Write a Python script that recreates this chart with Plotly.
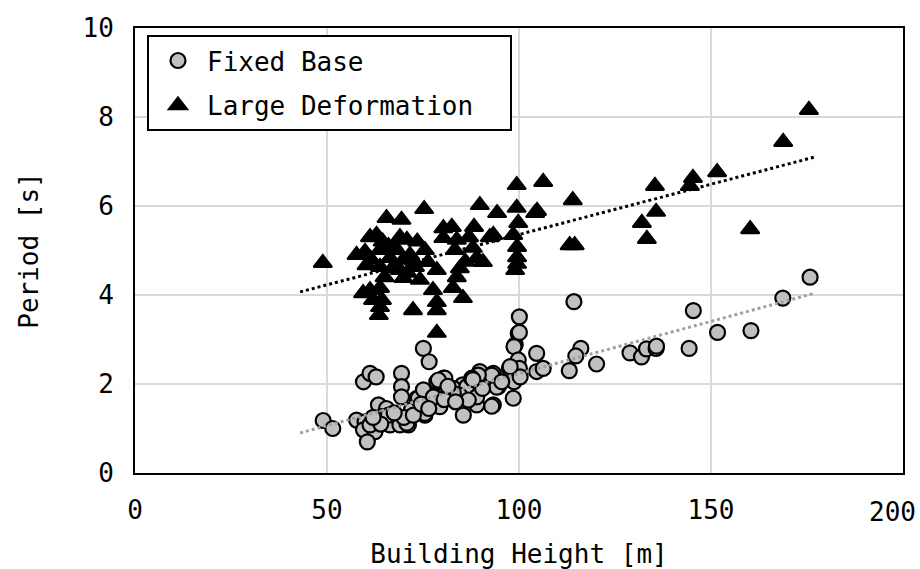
import plotly.graph_objects as go

# Fixed Base (circles)
fb_height = [49, 51.5, 59.5, 61.2, 62.8, 69.4, 69.4, 69.4, 57.7, 59.9, 59.5, 62.5, 60.5, 63.4, 65.5,
             64.2, 68.1, 66.4, 69, 71.2, 72, 73.4, 61.2,
             75.1, 76.6, 80.3, 78.6, 85.3, 89.8, 93.3, 94.6, 98.5, 98.5, 99.8, 104.6, 104.6, 99, 99.8,
             98.5, 93.3, 89, 85.5, 84.2, 87.2, 79.4, 75.5, 73.8, 70.8, 77.7, 82, 82.9, 86.4,
             175.8, 168.7, 114.3, 145.4, 151.7, 160.4, 144.3, 128.9, 131.9, 133.2, 135.7, 135.8, 116.1,
             114.8, 120.2, 113.1, 106.3, 100.1, 100.1, 98.7, 99.8, 97.5, 100.1, 98.7, 100.3,
             97.7, 94.2, 92.9, 89.4, 87.7, 80.7, 79, 84.5, 89, 92.9, 75.1, 77.7, 82.9, 86.8, 75.5,
             66, 70, 72.5, 74.5, 76.5, 80.5, 83.5, 90.5, 95.5, 88, 81.5, 67.5, 64, 62]
fb_period = [1.18, 1.0, 2.05, 2.24, 2.16, 2.24, 1.94, 1.71, 1.19, 1.15, 0.97, 0.93, 0.70, 1.53, 1.45,
             1.27, 1.19, 1.08, 1.08, 1.08, 1.42, 1.68, 1.08,
             2.8, 2.5, 2.13, 2.05, 1.98, 2.28, 2.24, 1.94, 2.09, 2.39, 2.39, 2.69, 2.28, 2.88, 3.14,
             1.68, 1.53, 1.53, 1.3, 1.75, 1.75, 1.49, 1.3, 1.68, 1.12, 1.75, 1.79, 1.9, 1.94,
             4.4, 3.93, 3.85, 3.65, 3.16, 3.2, 2.8, 2.7, 2.61, 2.79, 2.8, 2.85, 2.8,
             2.63, 2.45, 2.3, 2.35, 3.51, 3.16, 2.84, 2.54, 2.35, 2.35, 2.05, 2.16,
             2.39, 1.93, 2.2, 2.2, 2.13, 2.13, 2.09, 1.75, 1.71, 1.5, 1.87, 1.71, 1.79, 1.64, 1.34,
             1.3, 1.25, 1.3, 1.55, 1.45, 1.65, 1.6, 1.9, 2.05, 2.1, 1.95, 1.35, 1.1, 1.25]

# Large Deformation (triangles)
ld_height = [48.9, 175.5, 168.8, 151.6, 145.3, 144.5, 160.2, 135.4, 135.7, 132, 133.3, 114, 113.2, 114.5,
             106.3, 104.7,
             99.4, 75.3, 89.8, 94.3, 99.4, 104.2, 80.3, 82.5, 88.3, 92.4, 93.3, 98.5, 99.8, 80.3, 83.8,
             83.3, 88, 89, 75.5, 99.5, 99.5, 99, 99.5, 72.4, 76.3, 78.6, 84.6, 83.8, 74.2, 77.6, 82.8,
             85.4, 78.6, 72.4, 78.6, 78.6,
             65.5, 69.4, 61.2, 62.9, 69, 70.8, 57.7, 59.9, 63.8, 66.4, 68.1, 71.6, 60.3, 63.8, 69, 72.9,
             69.9, 59.4, 61.2, 63.8, 62, 64.3, 63.8, 63.5,
             66, 67, 70, 65, 61.5, 71, 86, 87, 90.6, 67.5, 64.5, 73.5]
ld_period = [4.72, 8.16, 7.44, 6.76, 6.63, 6.45, 5.48, 6.45, 5.87, 5.62, 5.26, 6.13, 5.12, 5.12,
             6.54, 5.89,
             6.47, 5.93, 6.02, 5.84, 5.96, 5.84, 5.5, 5.53, 5.53, 5.3, 5.35, 5.35, 5.62, 5.28, 5.24,
             5.01, 5.06, 4.83, 5.01, 5.08, 4.85, 4.56, 4.7, 4.79, 4.74, 4.56, 4.6, 4.4, 4.34, 4.11, 4.16,
             3.93, 3.84, 3.66, 3.66, 3.15,
             5.73, 5.69, 5.3, 5.35, 5.3, 5.24, 4.9, 4.97, 5.01, 4.83, 5.01, 4.9, 4.67, 4.63, 4.56, 4.63,
             4.38, 4.04, 4.11, 4.16, 3.89, 3.89, 3.73, 3.55,
             5.1, 4.6, 4.8, 4.4, 4.8, 4.5, 4.75, 5.3, 4.74, 5.1, 5.2, 5.2]

# Trend lines (endpoints)
trend_x = [43, 177]
trend_fb = [0.9, 4.04]
trend_ld = [4.07, 7.1]

# Axis ticks
x_tick_vals = [0, 50, 100, 150, 200]
x_tick_labels = ["0", "50", "100", "150", "200"]

FONT = "DejaVu Sans Mono"
NB = "\u00a0"

# last x label is placed as an annotation anchored on its right so it stays inside the page
x_tick_text = x_tick_labels[:-1] + [""]

fig = go.Figure()
fig.add_trace(go.Scatter(
    x=fb_height, y=fb_period, mode="markers", name="Fixed Base", legendgroup="fb",
    marker=dict(symbol="circle", size=15, color="#c0c0c0",
                line=dict(color="black", width=2.2))))
fig.add_trace(go.Scatter(
    x=ld_height, y=ld_period, mode="markers", name="Large Deformation" + NB * 2, legendgroup="ld",
    marker=dict(symbol="triangle-up", size=16, color="black",
                line=dict(color="black", width=2))))
fig.add_trace(go.Scatter(
    x=trend_x, y=trend_fb, mode="lines", showlegend=False, hoverinfo="skip",
    line=dict(color="#a0a0a0", width=3, dash="dot")))
fig.add_trace(go.Scatter(
    x=trend_x, y=trend_ld, mode="lines", showlegend=False, hoverinfo="skip",
    line=dict(color="black", width=3, dash="dot")))

fig.add_annotation(
    x=x_tick_vals[-1], xref="x", y=0, yref="paper",
    text=x_tick_labels[-1], showarrow=False,
    xanchor="right", yanchor="top", xshift=15, yshift=-22,
    font=dict(family=FONT, size=26, color="black"))

fig.update_layout(
    width=920, height=569,
    margin=dict(l=135, r=17, t=28, b=96, autoexpand=False),
    paper_bgcolor="white", plot_bgcolor="white",
    font=dict(family=FONT, size=26, color="black"),
    showlegend=True,
    legend=dict(x=0.0156, y=0.984, xanchor="left", yanchor="top",
                bordercolor="black", borderwidth=2, bgcolor="white",
                font=dict(family=FONT, size=26, color="black"),
                tracegroupgap=8, itemwidth=48),
    xaxis=dict(range=[0, 200], tickmode="array", tickvals=x_tick_vals, ticktext=x_tick_text,
               automargin=False,
               showgrid=True, gridcolor="#d9d9d9", gridwidth=2,
               zeroline=False, showline=True, linecolor="black", linewidth=2, mirror=True,
               ticks="", ticklabelstandoff=13, ticklabeloverflow="allow",
               title=dict(text="Building Height [m]", standoff=23,
                          font=dict(family=FONT, size=26))),
    yaxis=dict(range=[0, 10], dtick=2, tick0=0, automargin=False,
               showgrid=True, gridcolor="#d9d9d9", gridwidth=2,
               zeroline=False, showline=True, linecolor="black", linewidth=2, mirror=True,
               ticks="", ticklabelstandoff=14, ticklabeloverflow="allow",
               title=dict(text="Period [s]", standoff=36,
                          font=dict(family=FONT, size=26))),
)

fig.write_html("out.html")
